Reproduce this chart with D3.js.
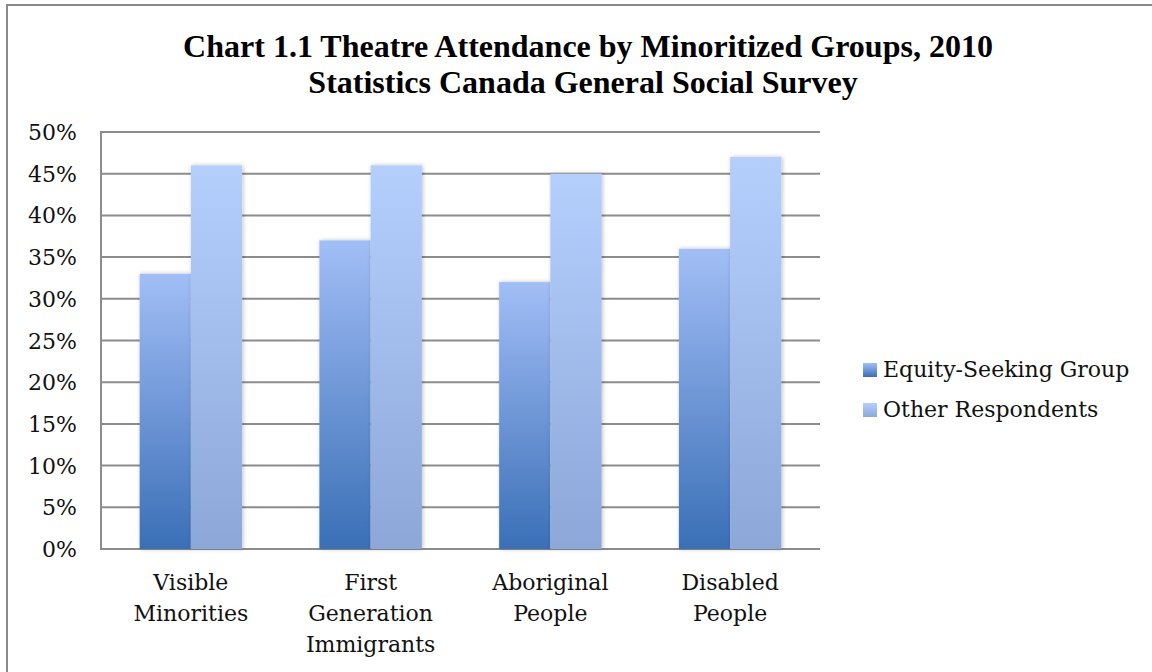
<!DOCTYPE html>
<html>
<head>
<meta charset="utf-8">
<script src="https://cdn.jsdelivr.net/npm/d3@7"></script>
<style>
  body { margin: 0; background: #fff; }
  svg { display: block; }
</style>
</head>
<body>
<svg width="1152" height="672"></svg>
<script>
const categories = [['Visible', 'Minorities'], ['First', 'Generation', 'Immigrants'], ['Aboriginal', 'People'], ['Disabled', 'People']];
const seriesNames = ['Equity-Seeking Group', 'Other Respondents'];
const equityValues = [33, 37, 32, 36];
const otherValues = [46, 46, 45, 47];
const yTicks = [0, 5, 10, 15, 20, 25, 30, 35, 40, 45, 50];
const titleLines = ['Chart 1.1 Theatre Attendance by Minoritized Groups, 2010', 'Statistics Canada General Social Survey'];

const svg = d3.select('svg');
const plot = { left: 101, right: 820, top: 132, bottom: 549 };
const labelFont = '"DejaVu Serif", serif';

// frame
svg.append('rect')
  .attr('x', 7).attr('y', 5)
  .attr('width', 1160).attr('height', 680)
  .attr('fill', 'none')
  .attr('stroke', '#8a8a8a')
  .attr('stroke-width', 2);

// gradients
const defs = svg.append('defs');
const grads = [
  { id: 'g0', top: '#a2bef6', bottom: '#3a6fb6' },
  { id: 'g1', top: '#b5cffd', bottom: '#8ca7d8' },
];
grads.forEach(g => {
  const lg = defs.append('linearGradient')
    .attr('id', g.id)
    .attr('x1', 0).attr('y1', 0).attr('x2', 0).attr('y2', 1);
  lg.append('stop').attr('offset', '0%').attr('stop-color', g.top);
  lg.append('stop').attr('offset', '100%').attr('stop-color', g.bottom);
});
defs.append('filter').attr('id', 'shadow')
  .attr('x', '-20%').attr('y', '-5%').attr('width', '140%').attr('height', '110%')
  .append('feDropShadow')
  .attr('dx', 1).attr('dy', 0).attr('stdDeviation', 2)
  .attr('flood-color', '#000').attr('flood-opacity', 0.25);

const x0 = d3.scaleBand()
  .domain(d3.range(categories.length))
  .range([plot.left, plot.right])
  .paddingInner(0.43)
  .paddingOuter(0.215);
const x1 = d3.scaleBand()
  .domain([0, 1])
  .range([0, x0.bandwidth()]);
const y = d3.scaleLinear()
  .domain([0, 50])
  .range([plot.bottom, plot.top]);

// gridlines
svg.append('g')
  .selectAll('line')
  .data(yTicks)
  .join('line')
  .attr('x1', plot.left).attr('x2', plot.right)
  .attr('y1', d => y(d)).attr('y2', d => y(d))
  .attr('stroke', '#8c8c8c')
  .attr('stroke-width', 2);

svg.append('line')
  .attr('x1', plot.left).attr('x2', plot.left)
  .attr('y1', plot.top - 1).attr('y2', plot.bottom + 1)
  .attr('stroke', '#8c8c8c')
  .attr('stroke-width', 2);

// bars
const barData = [];
categories.forEach((c, i) => {
  barData.push({ cat: i, s: 0, v: equityValues[i] });
  barData.push({ cat: i, s: 1, v: otherValues[i] });
});
svg.append('g')
  .selectAll('rect')
  .data(barData)
  .join('rect')
  .attr('x', d => x0(d.cat) + x1(d.s))
  .attr('y', d => y(d.v))
  .attr('width', x1.bandwidth())
  .attr('height', d => y(0) - y(d.v))
  .attr('fill', d => `url(#g${d.s})`)
  .attr('filter', 'url(#shadow)');

// y labels
svg.append('g')
  .selectAll('text')
  .data(yTicks)
  .join('text')
  .attr('x', 77)
  .attr('y', d => y(d) + 8)
  .attr('text-anchor', 'end')
  .attr('font-family', labelFont)
  .attr('font-size', 22)
  .attr('fill', '#111')
  .text(d => d + '%');

// x labels
const xl = svg.append('g')
  .selectAll('text')
  .data(categories)
  .join('text')
  .attr('text-anchor', 'middle')
  .attr('font-family', labelFont)
  .attr('font-size', 22)
  .attr('fill', '#111');
xl.selectAll('tspan')
  .data((d, i) => d.map(t => ({ t, i })))
  .join('tspan')
  .attr('x', d => x0(d.i) + x0.bandwidth() / 2)
  .attr('y', (d, j) => 590 + j * 31)
  .text(d => d.t);

// legend
const leg = svg.append('g')
  .selectAll('g')
  .data(seriesNames)
  .join('g')
  .attr('transform', (d, i) => `translate(863, ${363 + i * 40})`);
leg.append('rect')
  .attr('width', 14).attr('height', 14)
  .attr('fill', (d, i) => `url(#g${i})`);
leg.append('text')
  .attr('x', 20).attr('y', 14)
  .attr('font-family', labelFont)
  .attr('font-size', 22)
  .attr('fill', '#111')
  .text(d => d);

// title
svg.append('g')
  .selectAll('text')
  .data(titleLines)
  .join('text')
  .attr('x', (d, i) => i === 0 ? 588 : 583)
  .attr('y', (d, i) => 57 + i * 36)
  .attr('text-anchor', 'middle')
  .attr('font-family', '"Liberation Serif", "Times New Roman", serif')
  .attr('font-weight', 'bold')
  .attr('font-size', 32)
  .attr('fill', '#000')
  .text(d => d);
</script>
</body>
</html>
